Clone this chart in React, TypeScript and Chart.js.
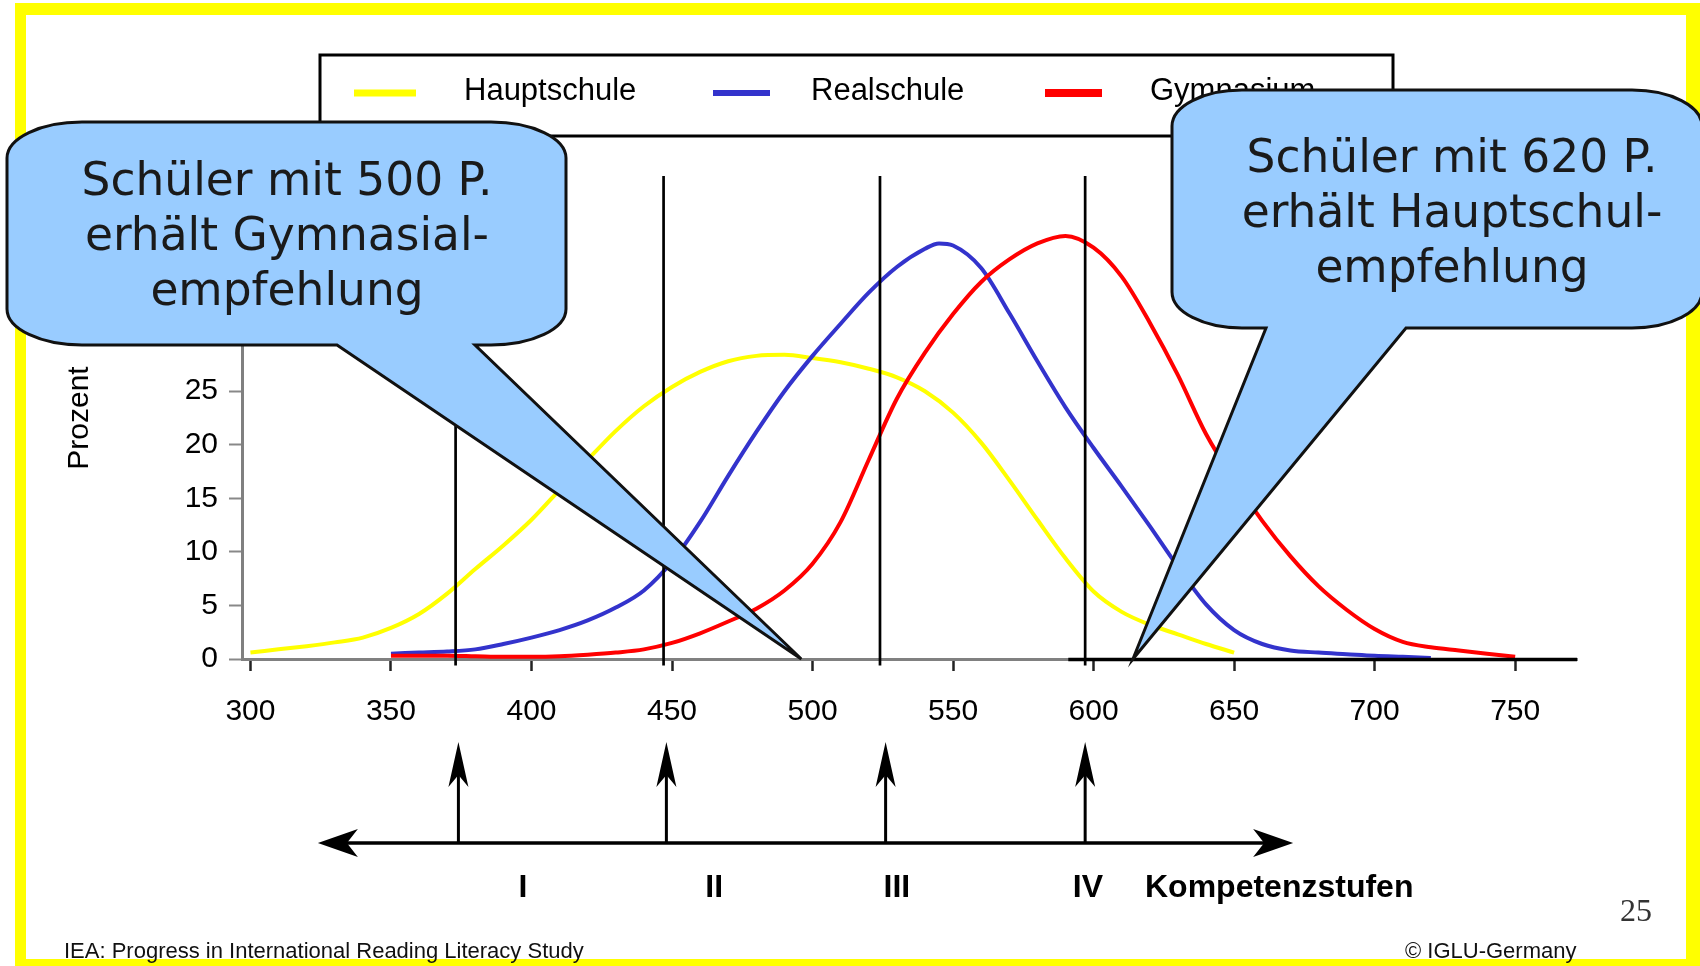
import React, { useEffect, useRef } from "react";
import { Chart, registerables } from "chart.js";

Chart.register(...registerables);

// ---------- data ----------
const seriesNames = ["Hauptschule", "Realschule", "Gymnasium"];
const seriesColors = ["#FFFF00", "#3333CC", "#FF0000"];

const hauptschuleX = [300, 310, 320, 330, 340, 350, 360, 370, 380, 390, 400, 410, 420, 430, 440, 450, 460, 470, 480, 490, 500, 510, 520, 530, 540, 550, 560, 570, 580, 590, 600, 610, 620, 630, 640, 650];
const hauptschuleY = [0.6, 0.9, 1.2, 1.55, 2.0, 2.9, 4.2, 6.1, 8.4, 10.6, 13.0, 15.8, 18.6, 21.3, 23.6, 25.4, 26.8, 27.8, 28.3, 28.4, 28.1, 27.7, 27.1, 26.3, 25.0, 23.0, 20.2, 16.7, 13.0, 9.4, 6.3, 4.4, 3.2, 2.3, 1.4, 0.6];

const realschuleX = [350, 360, 370, 380, 390, 400, 410, 420, 430, 440, 450, 460, 470, 480, 490, 500, 510, 520, 530, 540, 545, 550, 560, 570, 580, 590, 600, 610, 620, 630, 640, 650, 660, 670, 680, 690, 700, 710, 720];
const realschuleY = [0.5, 0.6, 0.7, 0.9, 1.4, 2.0, 2.7, 3.6, 4.8, 6.4, 9.1, 12.8, 17.1, 21.2, 25.0, 28.3, 31.3, 34.2, 36.6, 38.3, 38.8, 38.6, 36.5, 32.3, 27.8, 23.5, 19.7, 16.1, 12.4, 8.6, 5.1, 2.7, 1.4, 0.8, 0.6, 0.45, 0.3, 0.2, 0.1];

const gymnasiumX = [350, 360, 370, 380, 390, 400, 410, 420, 430, 440, 450, 460, 470, 480, 490, 500, 510, 520, 530, 540, 550, 560, 570, 580, 590, 600, 610, 620, 630, 640, 650, 660, 670, 680, 690, 700, 710, 720, 730, 740, 750];
const gymnasiumY = [0.3, 0.3, 0.3, 0.25, 0.2, 0.2, 0.25, 0.4, 0.6, 0.9, 1.5, 2.4, 3.5, 4.7, 6.4, 8.9, 12.8, 18.6, 24.3, 28.6, 32.2, 35.2, 37.3, 38.8, 39.5, 38.4, 35.7, 31.4, 26.5, 21.0, 16.7, 12.9, 9.6, 6.8, 4.6, 2.8, 1.6, 1.1, 0.8, 0.5, 0.2];

const xTicks = [300, 350, 400, 450, 500, 550, 600, 650, 700, 750];
const yTicks = [0, 5, 10, 15, 20, 25];
const xRange = [297, 772];
const yRange = [0, 45];
const axisTitleY = "Prozent";

const levelLinesX = [373, 447, 524, 597];
const levelLineSpan = [-0.6, 45.1];
const levelArrowsX = [374, 448, 526, 597];
const levelLabels = ["I", "II", "III", "IV"];
const levelLabelsX = [397, 465, 530, 598];
const levelAxisTitle = "Kompetenzstufen";
const scaleArrowSpan = [324, 671];
const darkAxisFrom = 591;

const leftCalloutLines = ["Schüler mit 500 P.", "erhält Gymnasial-", "empfehlung"];
const rightCalloutLines = ["Schüler mit 620 P.", "erhält Hauptschul-", "empfehlung"];
const leftCalloutTip = 496;
const rightCalloutTip = 614;

const footerLeft = "IEA: Progress in International Reading Literacy Study";
const footerRight = "© IGLU-Germany";
const pageNumber = "25";

// ---------- drawing helpers ----------
const SANS = "'Liberation Sans', Arial, Helvetica, sans-serif";
const BUBBLE_FONT = "'DejaVu Sans', Verdana, sans-serif";

function bubblePath(ctx: CanvasRenderingContext2D, b: any) {
  const { x0, y0, x1, y1, rx, ry, tailL, tailR, tipX, tipY } = b;
  const k = 0.5523;
  ctx.beginPath();
  ctx.moveTo(x0 + rx, y0);
  ctx.lineTo(x1 - rx, y0);
  ctx.bezierCurveTo(x1 - rx + rx * k, y0, x1, y0 + ry - ry * k, x1, y0 + ry);
  ctx.lineTo(x1, y1 - ry);
  ctx.bezierCurveTo(x1, y1 - ry + ry * k, x1 - rx + rx * k, y1, x1 - rx, y1);
  ctx.lineTo(tailR, y1);
  ctx.lineTo(tipX, tipY);
  ctx.lineTo(tailL, y1);
  ctx.lineTo(x0 + rx, y1);
  ctx.bezierCurveTo(x0 + rx - rx * k, y1, x0, y1 - ry + ry * k, x0, y1 - ry);
  ctx.lineTo(x0, y0 + ry);
  ctx.bezierCurveTo(x0, y0 + ry - ry * k, x0 + rx - rx * k, y0, x0 + rx, y0);
  ctx.closePath();
}

function drawCallout(ctx: CanvasRenderingContext2D, b: any, lines: string[], cx: number, baselines: number[]) {
  ctx.save();
  bubblePath(ctx, b);
  ctx.fillStyle = "#99CCFF";
  ctx.fill();
  ctx.lineWidth = 3;
  ctx.strokeStyle = "#111";
  ctx.lineJoin = "miter";
  ctx.stroke();
  ctx.fillStyle = "#1a1a1a";
  ctx.font = `45.5px ${BUBBLE_FONT}`;
  ctx.textAlign = "center";
  ctx.textBaseline = "alphabetic";
  lines.forEach((t, i) => ctx.fillText(t, cx, baselines[i]));
  ctx.restore();
}

function arrowHead(ctx: CanvasRenderingContext2D, tipX: number, tipY: number, dx: number, dy: number, len: number, half: number, notch: number) {
  const bx = tipX - dx * len;
  const by = tipY - dy * len;
  const nx = -dy;
  const ny = dx;
  ctx.beginPath();
  ctx.moveTo(tipX, tipY);
  ctx.lineTo(bx + nx * half, by + ny * half);
  ctx.lineTo(tipX - dx * (len - notch), tipY - dy * (len - notch));
  ctx.lineTo(bx - nx * half, by - ny * half);
  ctx.closePath();
  ctx.fill();
}

const decorations = {
  id: "decorations",
  beforeDraw(chart: any) {
    const ctx: CanvasRenderingContext2D = chart.ctx;
    ctx.save();
    ctx.fillStyle = "#ffffff";
    ctx.fillRect(0, 0, chart.width, chart.height);
    ctx.fillStyle = "#FFFF00";
    ctx.fillRect(15, 3, 1685, 12);
    ctx.fillRect(15, 3, 11, 963);
    ctx.fillRect(1686, 3, 14, 963);
    ctx.fillRect(15, 959, 1685, 7);
    ctx.restore();
  },
  afterDraw(chart: any) {
    const ctx: CanvasRenderingContext2D = chart.ctx;
    const xs = chart.scales.x;
    const ys = chart.scales.y;
    const px = (v: number) => xs.getPixelForValue(v);
    const py = (v: number) => ys.getPixelForValue(v);
    const area = chart.chartArea;
    ctx.save();

    // darker right part of the x axis
    ctx.strokeStyle = "#000";
    ctx.lineWidth = 3.5;
    ctx.beginPath();
    ctx.moveTo(px(darkAxisFrom), area.bottom + 0.5);
    ctx.lineTo(area.right, area.bottom + 0.5);
    ctx.stroke();

    // legend box
    ctx.fillStyle = "#fff";
    ctx.fillRect(320, 55, 1073, 81);
    ctx.strokeStyle = "#000";
    ctx.lineWidth = 3;
    ctx.strokeRect(320, 55, 1073, 81);
    const sample = [[354, 416], [713, 770], [1045, 1102]];
    const sampleW = [7, 6, 8];
    const textX = [464, 811, 1150];
    ctx.font = `31px ${SANS}`;
    ctx.textAlign = "left";
    ctx.textBaseline = "alphabetic";
    seriesNames.forEach((name, i) => {
      ctx.strokeStyle = seriesColors[i];
      ctx.lineWidth = sampleW[i];
      ctx.beginPath();
      ctx.moveTo(sample[i][0], 93);
      ctx.lineTo(sample[i][1], 93);
      ctx.stroke();
      ctx.fillStyle = "#000";
      ctx.fillText(name, textX[i], 100);
    });

    // callouts
    drawCallout(ctx, { x0: 7, y0: 122, x1: 566, y1: 345, rx: 75, ry: 36, tailL: 337, tailR: 475, tipX: px(leftCalloutTip), tipY: py(0) }, leftCalloutLines, 287, [195, 250, 305]);
    drawCallout(ctx, { x0: 1172, y0: 90, x1: 1702, y1: 328, rx: 70, ry: 36, tailL: 1266, tailR: 1406, tipX: px(rightCalloutTip), tipY: py(0) }, rightCalloutLines, 1452, [172, 227, 282]);

    // competence scale arrows
    ctx.strokeStyle = "#000";
    ctx.fillStyle = "#000";
    ctx.lineWidth = 3.5;
    const hy = 843;
    const hx0 = px(scaleArrowSpan[0]);
    const hx1 = px(scaleArrowSpan[1]);
    ctx.beginPath();
    ctx.moveTo(hx0 + 20, hy);
    ctx.lineTo(hx1 - 20, hy);
    ctx.stroke();
    arrowHead(ctx, hx0, hy, -1, 0, 40, 14, 11);
    arrowHead(ctx, hx1, hy, 1, 0, 40, 14, 11);
    ctx.lineWidth = 3;
    levelArrowsX.forEach((v) => {
      const x = px(v);
      ctx.beginPath();
      ctx.moveTo(x, hy);
      ctx.lineTo(x, 772);
      ctx.stroke();
      arrowHead(ctx, x, 742, 0, -1, 45, 10, 12);
    });

    ctx.font = `bold 32px ${SANS}`;
    ctx.textAlign = "center";
    levelLabels.forEach((t, i) => ctx.fillText(t, px(levelLabelsX[i]), 897));
    ctx.textAlign = "left";
    ctx.fillText(levelAxisTitle, 1145, 897);

    // page number and footer
    ctx.fillStyle = "#333";
    ctx.font = `32px 'Liberation Serif', 'Times New Roman', serif`;
    ctx.fillText(pageNumber, 1620, 921);
    ctx.fillStyle = "#111";
    ctx.font = `22px ${SANS}`;
    ctx.fillText(footerLeft, 64, 958);
    ctx.fillText(footerRight, 1405, 958);

    ctx.restore();
  },
};

const pts = (xs: number[], ys: number[]) => xs.map((x, i) => ({ x, y: ys[i] }));

export default function App() {
  const ref = useRef<HTMLCanvasElement | null>(null);

  useEffect(() => {
    const canvas = ref.current;
    if (!canvas) return;
    const curveBase = { pointRadius: 0, borderWidth: 4, fill: false, cubicInterpolationMode: "monotone" as const };
    const chart = new Chart(canvas, {
      type: "line",
      data: {
        datasets: [
          { ...curveBase, label: seriesNames[0], data: pts(hauptschuleX, hauptschuleY), borderColor: seriesColors[0], order: 3 },
          { ...curveBase, label: seriesNames[1], data: pts(realschuleX, realschuleY), borderColor: seriesColors[1], order: 2 },
          { ...curveBase, label: seriesNames[2], data: pts(gymnasiumX, gymnasiumY), borderColor: seriesColors[2], order: 1 },
          ...levelLinesX.map((x, i) => ({
            label: "Stufe " + levelLabels[i],
            data: [{ x, y: levelLineSpan[0] }, { x, y: levelLineSpan[1] }],
            borderColor: "#000",
            borderWidth: 2.7,
            pointRadius: 0,
            fill: false,
            clip: false as any,
            order: 0,
          })),
        ] as any,
      },
      options: {
        animation: false,
        responsive: false,
        devicePixelRatio: 1,
        layout: { padding: { left: 62, top: 177, right: 123, bottom: 227 } },
        plugins: { legend: { display: false }, tooltip: { enabled: false }, title: { display: false } },
        scales: {
          x: {
            type: "linear",
            min: xRange[0],
            max: xRange[1],
            afterBuildTicks: (s: any) => {
              s.ticks = xTicks.map((v) => ({ value: v }));
            },
            afterFit: (s: any) => {
              s.height = 80;
            },
            grid: { drawOnChartArea: false, drawTicks: true, tickLength: 12, tickColor: "#222", tickWidth: 2.5 },
            border: { color: "#808080", width: 3 },
            ticks: { font: { family: SANS, size: 30 }, color: "#000", padding: 23, maxRotation: 0, minRotation: 0, autoSkip: false },
          },
          y: {
            type: "linear",
            min: yRange[0],
            max: yRange[1],
            afterBuildTicks: (s: any) => {
              s.ticks = yTicks.map((v) => ({ value: v }));
            },
            afterFit: (s: any) => {
              s.width = 180;
            },
            grid: { drawOnChartArea: false, drawTicks: true, tickLength: 13, tickColor: "#888", tickWidth: 2 },
            border: { color: "#808080", width: 3 },
            ticks: { font: { family: SANS, size: 30 }, color: "#000", padding: 11, autoSkip: false },
            title: { display: true, text: axisTitleY, font: { family: SANS, size: 30 }, color: "#000", padding: { top: 0, bottom: 0 } },
          },
        },
      } as any,
      plugins: [decorations as any],
    });
    return () => chart.destroy();
  }, []);

  return (
    <div style={{ position: "absolute", left: 0, top: 0, width: 1700, height: 966, background: "#fff" }}>
      <canvas ref={ref} width={1700} height={966} style={{ display: "block", width: 1700, height: 966 }} />
    </div>
  );
}
